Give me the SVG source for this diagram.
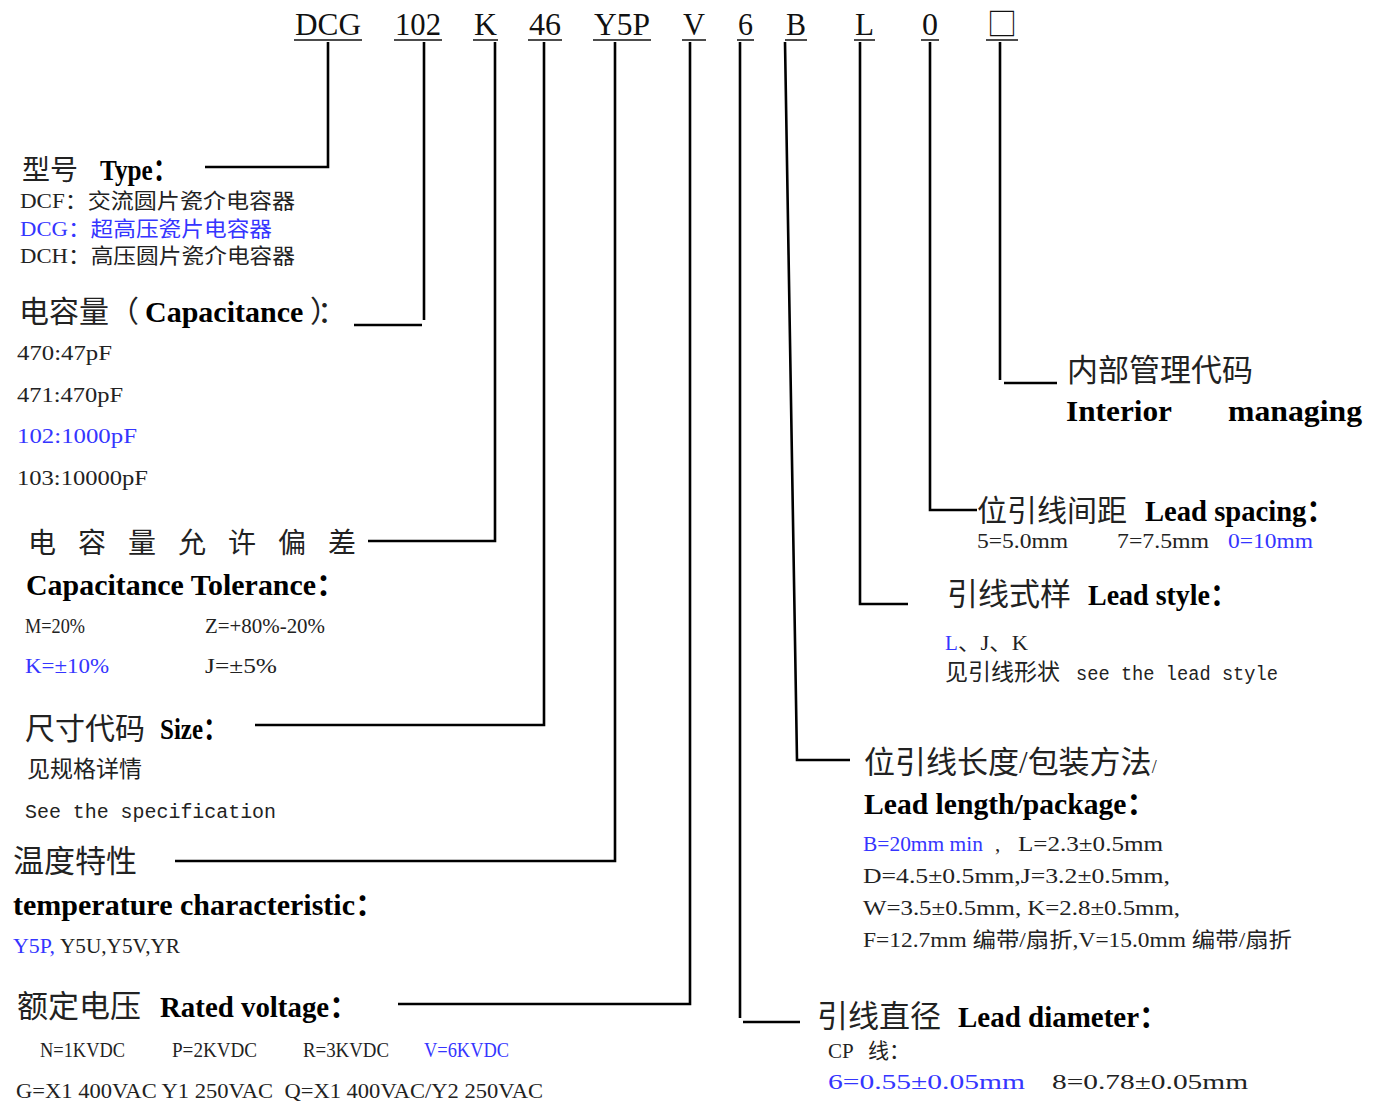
<svg xmlns="http://www.w3.org/2000/svg" width="1381" height="1102" viewBox="0 0 1381 1102">
<style>
text{fill:#222}
.top{font-family:"Liberation Serif","Noto Sans CJK SC",serif;font-size:31px;fill:#111}
.cn{font-family:"Noto Sans CJK SC",sans-serif}
.b{font-family:"Liberation Serif","Noto Sans CJK SC",serif;font-weight:bold;fill:#000}
.s{font-family:"Liberation Serif","Noto Sans CJK SC",serif;font-size:21px}
.m{font-family:"Liberation Mono","Noto Sans CJK SC",monospace;font-size:20px}
.blue{fill:#3535ff}
.ul{stroke:#111;stroke-width:1.5}
.con{fill:none;stroke:#000;stroke-width:2.6}
</style>
<rect width="1381" height="1102" fill="#fff"/>
<g id="code">
<text class="top" x="295" y="35" textLength="66" lengthAdjust="spacingAndGlyphs">DCG</text>
<line class="ul" x1="294" y1="40" x2="362" y2="40"/>
<text class="top" x="395" y="35" textLength="46" lengthAdjust="spacingAndGlyphs">102</text>
<line class="ul" x1="394" y1="40" x2="442" y2="40"/>
<text class="top" x="474" y="35" textLength="23" lengthAdjust="spacingAndGlyphs">K</text>
<line class="ul" x1="473" y1="40" x2="498" y2="40"/>
<text class="top" x="529" y="35" textLength="32" lengthAdjust="spacingAndGlyphs">46</text>
<line class="ul" x1="528" y1="40" x2="562" y2="40"/>
<text class="top" x="594" y="35" textLength="56" lengthAdjust="spacingAndGlyphs">Y5P</text>
<line class="ul" x1="593" y1="40" x2="651" y2="40"/>
<text class="top" x="683" y="35" textLength="22" lengthAdjust="spacingAndGlyphs">V</text>
<line class="ul" x1="682" y1="40" x2="706" y2="40"/>
<text class="top" x="738" y="35" textLength="15" lengthAdjust="spacingAndGlyphs">6</text>
<line class="ul" x1="737" y1="40" x2="754" y2="40"/>
<text class="top" x="786" y="35" textLength="20" lengthAdjust="spacingAndGlyphs">B</text>
<line class="ul" x1="785" y1="40" x2="807" y2="40"/>
<text class="top" x="855" y="35" textLength="19" lengthAdjust="spacingAndGlyphs">L</text>
<line class="ul" x1="854" y1="40" x2="875" y2="40"/>
<text class="top" x="922" y="35" textLength="16" lengthAdjust="spacingAndGlyphs">0</text>
<line class="ul" x1="921" y1="40" x2="939" y2="40"/>
<text class="top cn" x="987" y="35" font-size="30" textLength="30" lengthAdjust="spacingAndGlyphs">□</text>
<line class="ul" x1="986" y1="40" x2="1018" y2="40"/>
</g>
<g id="connectors">
<polyline class="con" points="328,42 328,167 205,167"/>
<line class="con" x1="424" y1="42" x2="424" y2="320"/>
<line class="con" x1="354" y1="325" x2="422" y2="325"/>
<polyline class="con" points="495,42 495,541 368,541"/>
<polyline class="con" points="544,42 544,725 255,725"/>
<polyline class="con" points="615,42 615,861 175,861"/>
<polyline class="con" points="690,42 690,1004 398,1004"/>
<line class="con" x1="740" y1="42" x2="740" y2="1018"/>
<line class="con" x1="743" y1="1022" x2="800" y2="1022"/>
<polyline class="con" points="785,42 797,760 850,760"/>
<polyline class="con" points="860,42 860,604 908,604"/>
<polyline class="con" points="930,42 930,510 977,510"/>
<line class="con" x1="1000" y1="42" x2="1000" y2="380"/>
<line class="con" x1="1004" y1="383" x2="1057" y2="383"/>
</g>
<g id="type">
<text class="cn" x="22" y="180" font-size="28">型号</text>
<text class="b" x="100" y="180" font-size="30" textLength="78" lengthAdjust="spacingAndGlyphs">Type：</text>
<text class="s" x="20" y="208" textLength="275" lengthAdjust="spacingAndGlyphs">DCF：交流圆片瓷介电容器</text>
<text class="s blue" x="20" y="236" textLength="252" lengthAdjust="spacingAndGlyphs">DCG：超高压瓷片电容器</text>
<text class="s" x="20" y="263" textLength="275" lengthAdjust="spacingAndGlyphs">DCH：高压圆片瓷介电容器</text>
</g>
<g id="capacitance">
<text class="cn" x="19" y="322" font-size="30">电容量（<tspan class="b" x="145">Capacitance</tspan><tspan x="310" letter-spacing="-8">）：</tspan></text>
<text class="s" x="17" y="360" font-size="22" textLength="95" lengthAdjust="spacingAndGlyphs">470:47pF</text>
<text class="s" x="17" y="402" font-size="22" textLength="106" lengthAdjust="spacingAndGlyphs">471:470pF</text>
<text class="s blue" x="17" y="443" font-size="22" textLength="120" lengthAdjust="spacingAndGlyphs">102:1000pF</text>
<text class="s" x="17" y="485" font-size="22" textLength="131" lengthAdjust="spacingAndGlyphs">103:10000pF</text>
</g>
<g id="tolerance">
<text class="cn" x="28" y="553" font-size="28" letter-spacing="22">电容量允许偏差</text>
<text class="b" x="26" y="595" font-size="30" textLength="320" lengthAdjust="spacingAndGlyphs">Capacitance Tolerance：</text>
<text class="s" x="25" y="633" textLength="60" lengthAdjust="spacingAndGlyphs">M=20%</text>
<text class="s" x="205" y="633" textLength="120" lengthAdjust="spacingAndGlyphs">Z=+80%-20%</text>
<text class="s blue" x="25" y="673" textLength="84" lengthAdjust="spacingAndGlyphs">K=±10%</text>
<text class="s" x="205" y="673" textLength="72" lengthAdjust="spacingAndGlyphs">J=±5%</text>
</g>
<g id="size">
<text class="cn" x="25" y="739" font-size="30">尺寸代码</text>
<text class="b" x="160" y="739" font-size="30" textLength="68" lengthAdjust="spacingAndGlyphs">Size：</text>
<text class="cn" x="27" y="777" font-size="23">见规格详情</text>
<text class="m" x="25" y="818" textLength="251" lengthAdjust="spacingAndGlyphs">See the specification</text>
</g>
<g id="temperature">
<text class="cn" x="13" y="872" font-size="31">温度特性</text>
<text class="b" x="13" y="915" font-size="30" textLength="372" lengthAdjust="spacingAndGlyphs">temperature characteristic：</text>
<text class="s blue" x="13" y="953" textLength="42" lengthAdjust="spacingAndGlyphs">Y5P,</text>
<text class="s" x="60" y="953" textLength="120" lengthAdjust="spacingAndGlyphs">Y5U,Y5V,YR</text>
</g>
<g id="voltage">
<text class="cn" x="17" y="1017" font-size="31">额定电压</text>
<text class="b" x="160" y="1017" font-size="30" textLength="198" lengthAdjust="spacingAndGlyphs">Rated voltage：</text>
<text class="s" x="40" y="1057" textLength="85" lengthAdjust="spacingAndGlyphs">N=1KVDC</text>
<text class="s" x="172" y="1057" textLength="85" lengthAdjust="spacingAndGlyphs">P=2KVDC</text>
<text class="s" x="303" y="1057" textLength="86" lengthAdjust="spacingAndGlyphs">R=3KVDC</text>
<text class="s blue" x="424" y="1057" textLength="85" lengthAdjust="spacingAndGlyphs">V=6KVDC</text>
<text class="s" x="16" y="1098" textLength="527" lengthAdjust="spacingAndGlyphs" xml:space="preserve">G=X1 400VAC Y1 250VAC  Q=X1 400VAC/Y2 250VAC</text>
</g>
<g id="interior">
<text class="cn" x="1067" y="381" font-size="31">内部管理代码</text>
<text class="b" x="1066" y="421" font-size="30" textLength="106" lengthAdjust="spacingAndGlyphs">Interior</text>
<text class="b" x="1228" y="421" font-size="30" textLength="134" lengthAdjust="spacingAndGlyphs">managing</text>
</g>
<g id="lead-spacing">
<text class="cn" x="977" y="521" font-size="30">位引线间距</text>
<text class="b" x="1145" y="521" font-size="30" textLength="190" lengthAdjust="spacingAndGlyphs">Lead spacing：</text>
<text class="s" x="977" y="548" font-size="23" textLength="91" lengthAdjust="spacingAndGlyphs">5=5.0mm</text>
<text class="s" x="1117" y="548" font-size="23" textLength="92" lengthAdjust="spacingAndGlyphs">7=7.5mm</text>
<text class="s blue" x="1228" y="548" font-size="23" textLength="85" lengthAdjust="spacingAndGlyphs">0=10mm</text>
</g>
<g id="lead-style">
<text class="cn" x="947" y="605" font-size="31">引线式样</text>
<text class="b" x="1088" y="605" font-size="30" textLength="150" lengthAdjust="spacingAndGlyphs">Lead style：</text>
<text class="s blue" x="945" y="650">L</text>
<text class="s" x="958" y="650" textLength="70" lengthAdjust="spacingAndGlyphs">、J、K</text>
<text class="cn" x="945" y="680" font-size="23">见引线形状</text>
<text class="m" x="1076" y="680" textLength="202" lengthAdjust="spacingAndGlyphs">see the lead style</text>
</g>
<g id="lead-length">
<text class="cn" x="864" y="773" font-size="31">位引线长度<tspan font-family="Liberation Serif">/</tspan>包装方法<tspan font-family="Liberation Serif" font-size="18">/</tspan></text>
<text class="b" x="864" y="814" font-size="30" textLength="292" lengthAdjust="spacingAndGlyphs">Lead length/package：</text>
<text class="s blue" x="863" y="851" textLength="120" lengthAdjust="spacingAndGlyphs">B=20mm min</text>
<text class="s" x="995" y="851">,</text>
<text class="s" x="1018" y="851" textLength="145" lengthAdjust="spacingAndGlyphs">L=2.3±0.5mm</text>
<text class="s" x="863" y="883" textLength="307" lengthAdjust="spacingAndGlyphs">D=4.5±0.5mm,J=3.2±0.5mm,</text>
<text class="s" x="863" y="915" textLength="317" lengthAdjust="spacingAndGlyphs">W=3.5±0.5mm, K=2.8±0.5mm,</text>
<text class="s" x="863" y="947" textLength="429" lengthAdjust="spacingAndGlyphs">F=12.7mm 编带/扇折,V=15.0mm 编带/扇折</text>
</g>
<g id="lead-diameter">
<text class="cn" x="817" y="1027" font-size="31">引线直径</text>
<text class="b" x="958" y="1027" font-size="30" textLength="210" lengthAdjust="spacingAndGlyphs">Lead diameter：</text>
<text class="s" x="828" y="1058" font-size="22" xml:space="preserve">CP <tspan class="cn" x="868">线：</tspan></text>
<text class="s blue" x="828" y="1089" font-size="24" textLength="197" lengthAdjust="spacingAndGlyphs">6=0.55±0.05mm</text>
<text class="s" x="1052" y="1089" font-size="24" textLength="196" lengthAdjust="spacingAndGlyphs">8=0.78±0.05mm</text>
</g>
</svg>
